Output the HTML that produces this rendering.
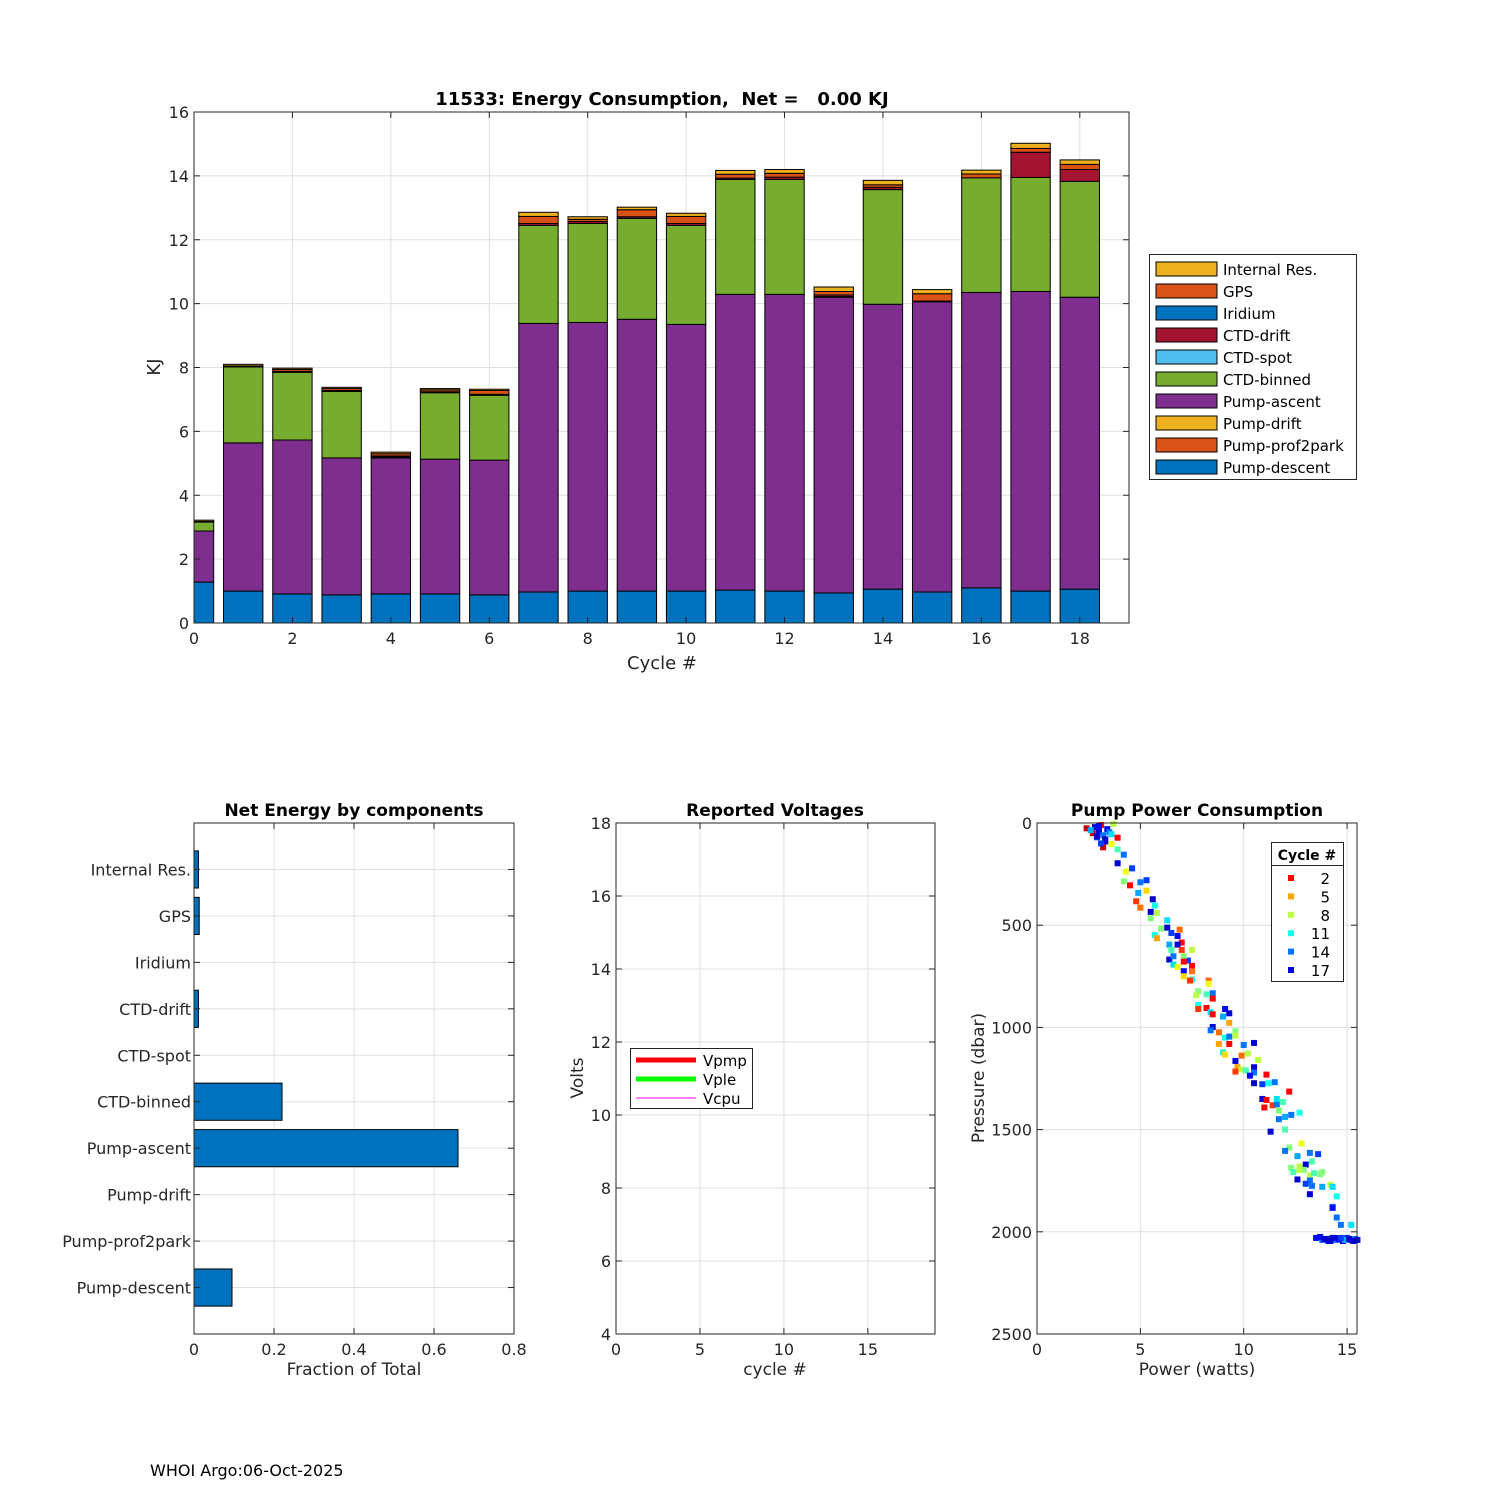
<!DOCTYPE html>
<html><head><meta charset="utf-8">
<style>
body{margin:0;background:#fff;}
svg{display:block;font-family:"DejaVu Sans","Liberation Sans",sans-serif;}
text{white-space:pre;}
</style></head>
<body>
<svg id="fig" width="1500" height="1500" viewBox="0 0 1500 1500" xmlns="http://www.w3.org/2000/svg">
<rect width="1500" height="1500" fill="#fff"/>
<g id="top"></g>
<g id="frac"></g>
<g id="volt"></g>
<g id="pump"></g>
<text x="150" y="1476" font-size="16" fill="#000">WHOI Argo:06-Oct-2025</text>
</svg>
<script>
// ---------- Top chart data ----------
const cycles = [0,1,2,3,4,5,6,7,8,9,10,11,12,13,14,15,16,17,18];
const pumpDescent = [1.28,1.0,0.91,0.88,0.91,0.91,0.88,0.97,1.0,1.0,1.0,1.03,1.0,0.94,1.06,0.97,1.1,1.0,1.06];
const pumpProf2park = [0,0,0,0,0,0,0,0,0,0,0,0,0,0,0,0,0,0,0];
const pumpDrift = [0,0,0,0,0,0,0,0,0,0,0,0,0,0,0,0,0,0,0];
const pumpAscent = [1.60,4.64,4.82,4.29,4.26,4.22,4.22,8.41,8.41,8.51,8.35,9.26,9.29,9.26,8.92,9.09,9.25,9.38,9.14];
const ctdBinned = [0.28,2.38,2.12,2.08,0.03,2.08,2.03,3.07,3.10,3.16,3.10,3.60,3.60,0.02,3.59,0.02,3.59,3.57,3.63];
const ctdSpot = [0,0,0,0,0,0,0,0,0,0,0,0,0,0,0,0,0,0,0];
const ctdDrift = [0,0,0.03,0.03,0.03,0.03,0.03,0.06,0.06,0.05,0.06,0.04,0.07,0.05,0.07,0,0,0.79,0.37];
const iridium = [0,0,0,0,0,0,0,0,0,0,0,0,0,0,0,0,0,0,0];
const gps = [0.02,0.03,0.06,0.06,0.07,0.06,0.12,0.22,0.07,0.22,0.22,0.12,0.12,0.11,0.08,0.23,0.12,0.12,0.16];
const internalRes = [0.04,0.05,0.04,0.04,0.05,0.04,0.04,0.13,0.08,0.08,0.10,0.12,0.12,0.14,0.14,0.13,0.12,0.16,0.14];
const seriesNames = ["Pump-descent","Pump-prof2park","Pump-drift","Pump-ascent","CTD-binned","CTD-spot","CTD-drift","Iridium","GPS","Internal Res."];
const seriesColors = ["#0072BD","#D95319","#EDB120","#7E2F8E","#77AC30","#4DBEEE","#A2142F","#0072BD","#D95319","#EDB120"];
const topYTicks = [0,2,4,6,8,10,12,14,16];
const topXTicks = [0,2,4,6,8,10,12,14,16,18];

// ---------- Fraction chart data ----------
const fracCategories = ["Pump-descent","Pump-prof2park","Pump-drift","Pump-ascent","CTD-binned","CTD-spot","CTD-drift","Iridium","GPS","Internal Res."];
const fracValues = [0.095,0,0,0.66,0.22,0,0.011,0,0.013,0.011];
const fracXTicks = [0,0.2,0.4,0.6,0.8];

// ---------- Voltage chart data ----------
const voltYTicks = [4,6,8,10,12,14,16,18];
const voltXTicks = [0,5,10,15];
const voltLegend = ["Vpmp","Vple","Vcpu"];

// ---------- Pump power data: power (W), pressure (dbar), cycle ----------
const pumpPower = [3.7,2.4,3.2,3.9,3.6,3.9,4.2,3.9,4.6,4.3,4.2,4.5,5.0,5.3,4.9,5.3,4.8,5.6,5.0,5.7,5.5,5.8,5.5,6.3,6.3,6.0,5.7,5.8,6.9,6.5,6.8,7.0,6.8,6.4,7.5,6.5,7.0,6.4,6.6,7.3,7.1,6.6,7.1,7.5,6.8,7.1,7.5,7.1,7.5,7.4,8.3,8.3,7.8,7.7,8.2,8.5,8.5,7.8,7.8,8.2,8.4,8.5,9.1,9.3,9.0,9.3,8.5,8.4,8.8,9.6,9.1,9.3,9.6,8.8,9.3,10.0,10.5,9.0,9.1,10.2,9.9,9.6,10.7,9.7,9.9,9.6,10.1,10.5,10.5,10.3,11.1,10.5,10.9,11.5,11.2,12.2,10.9,11.1,11.0,11.4,11.6,11.6,11.9,11.7,11.7,12.0,12.3,12.7,12.0,11.3,12.2,12.8,12.0,12.6,13.2,13.6,13.3,13.0,12.3,12.7,12.4,12.9,13.2,13.4,13.7,12.7,13.2,12.6,13.8,14.2,13.0,13.3,13.8,13.2,14.3,14.5,14.3,14.3,14.5,14.7,15.2,2.8,3.0,3.2,3.4,2.7,3.1,3.3,2.9,3.5,3.0,2.6,3.3,3.6,3.1,2.9,13.5,13.8,14.0,14.1,14.3,14.5,14.6,14.8,15.0,15.2,15.4,13.7,14.2,14.4,14.9,15.1,15.5,13.9,14.7,15.3];
const pumpPressure = [5,26,119,72,103,129,155,197,222,238,285,305,290,280,342,331,383,373,414,404,435,440,466,476,512,517,548,564,522,538,553,585,595,595,621,621,621,668,652,673,652,693,678,699,704,725,725,750,766,771,771,787,823,843,838,833,859,890,910,905,926,936,910,931,947,978,998,1014,1024,1019,1050,1045,1040,1081,1081,1086,1076,1122,1133,1128,1138,1164,1159,1195,1206,1216,1210,1195,1221,1236,1231,1273,1278,1268,1273,1314,1350,1355,1392,1381,1376,1350,1365,1407,1449,1438,1428,1417,1500,1510,1588,1568,1604,1630,1614,1620,1656,1671,1687,1681,1708,1697,1724,1713,1718,1697,1749,1744,1708,1770,1765,1775,1780,1816,1780,1827,1878,1883,1930,1966,1966,20,40,60,30,50,10,80,70,45,15,35,90,55,100,65,2030,2040,2035,2045,2030,2040,2035,2045,2030,2040,2035,2025,2045,2030,2040,2035,2040,2035,2030,2045];
const pumpCycle = [8,1,1,2,7,10,14,17,15,7,9,2,14,15,13,6,3,17,4,11,17,8,9,12,17,9,11,5,4,15,16,2,17,13,8,10,3,17,14,15,9,12,2,2,7,16,4,6,11,3,4,7,9,8,10,14,2,11,3,2,12,2,16,17,13,5,17,14,4,9,11,14,8,5,2,14,17,11,6,8,4,17,8,5,8,3,10,17,14,16,2,17,15,14,11,2,17,2,2,3,14,12,10,9,14,13,14,11,10,17,9,7,14,13,14,15,10,17,9,8,10,9,8,10,9,8,14,17,9,8,15,14,13,17,12,11,14,16,14,14,12,17,17,14,16,1,2,17,15,14,16,13,17,12,15,17,16,14,17,17,17,14,16,17,15,17,14,16,17,17,13,17,16,17,15,17,14,16];
const pumpLegendCycles = [2,5,8,11,14,17];
const pumpYTicks = [0,500,1000,1500,2000,2500];
const pumpXTicks = [0,5,10,15];

const NS = "http://www.w3.org/2000/svg";
function mk(parent, tag, attrs){
  const el = document.createElementNS(NS, tag);
  for (const k in attrs) el.setAttribute(k, attrs[k]);
  parent.appendChild(el);
  return el;
}
function txt(parent, x, y, s, size, anchor, extra){
  const t = mk(parent, "text", Object.assign({x:x, y:y, "font-size":size, "text-anchor":anchor||"middle", fill:"#262626"}, extra||{}));
  t.textContent = s;
  return t;
}
function jetRev(c){
  const t = Math.max(0, Math.min(1, 0.98 - 0.053*c));
  const cl = v => Math.max(0, Math.min(1, v));
  const r = cl(1.5 - Math.abs(4*t - 3)), g = cl(1.5 - Math.abs(4*t - 2)), b = cl(1.5 - Math.abs(4*t - 1));
  return "rgb(" + Math.round(r*255) + "," + Math.round(g*255) + "," + Math.round(b*255) + ")";
}
function axesFrame(g, L, T, R, B, xTicks, xs, yTicks, ys, name){
  const grid = mk(g, "g", {});
  
  
  xTicks.forEach(v => { const x = xs(v); mk(grid, "line", {x1:x, x2:x, y1:T, y2:B, stroke:"#dfdfdf", "stroke-width":1}); });
  yTicks.forEach(v => { const y = ys(v); mk(grid, "line", {x1:L, x2:R, y1:y, y2:y, stroke:"#dfdfdf", "stroke-width":1}); });
}
function axesBox(g, L, T, R, B, xTicks, xs, yTicks, ys, xfmt, yfmt, name){
  const box = mk(g, "rect", {x:L, y:T, width:R-L, height:B-T, fill:"none", stroke:"#262626", "stroke-width":1});
  
  
  const xa = mk(g, "g", {});
  
  
  xTicks.forEach(v => {
    const x = xs(v);
    mk(xa, "line", {x1:x, x2:x, y1:B, y2:B-6, stroke:"#262626"});
    mk(xa, "line", {x1:x, x2:x, y1:T, y2:T+6, stroke:"#262626"});
    txt(xa, x, B+21, xfmt(v), 16);
  });
  const ya = mk(g, "g", {});
  
  
  yTicks.forEach(v => {
    const y = ys(v);
    mk(ya, "line", {x1:L, x2:L+6, y1:y, y2:y, stroke:"#262626"});
    mk(ya, "line", {x1:R, x2:R-6, y1:y, y2:y, stroke:"#262626"});
    if (yfmt) txt(ya, L-5, y+6, yfmt(v), 16, "end");
  });
}

// ===== Top chart =====
(function(){
  const g = document.getElementById("top");
  const L=194, T=112, R=1129, B=623;
  const xs = v => L + v*(R-L)/19;
  const ys = v => B - v*(B-T)/16;
  axesFrame(g,L,T,R,B,topXTicks,xs,topYTicks,ys,"energy");
  const cpath = mk(g, "clipPath", {id:"topclip"});
  mk(cpath, "rect", {x:L, y:T, width:R-L, height:B-T});
  const bars = mk(g, "g", {"clip-path":"url(#topclip)"});
  const series = [pumpDescent,pumpProf2park,pumpDrift,pumpAscent,ctdBinned,ctdSpot,ctdDrift,iridium,gps,internalRes];
  cycles.forEach((c,i) => {
    let base = 0;
    series.forEach((s,k) => {
      const v = s[i];
      if (v <= 0) return;
      const y0 = ys(base), y1 = ys(base+v);
      const r = mk(bars, "rect", {x:xs(c-0.4), y:y1, width:xs(c+0.4)-xs(c-0.4), height:y0-y1, fill:seriesColors[k], stroke:"#000", "stroke-width":1});
      
      
      base += v;
    });
  });
  axesBox(g,L,T,R,B,topXTicks,xs,topYTicks,ys,v=>String(v),v=>String(v),"energy");
  const t = txt(g, 662, 105, "11533: Energy Consumption,  Net =   0.00 KJ", 18, "middle", {"font-weight":"bold", fill:"#000"});
  
  
  const xl = txt(g, 662, 669, "Cycle #", 18);
  
  
  const yl = txt(g, 0, 0, "KJ", 18, "middle", {transform:"translate(160,367) rotate(-90)"});
  
  
  const lg = mk(g, "g", {});
  
  
  mk(lg, "rect", {x:1149.5, y:254.5, width:207, height:225, fill:"#fff", stroke:"#262626"});
  for (let k = 9; k >= 0; k--) {
    const row = 9 - k;
    const y = 269 + row*22;
    const e = mk(lg, "g", {});
    
    
    mk(e, "rect", {x:1156, y:y-7, width:61, height:14, fill:seriesColors[k], stroke:"#000"});
    txt(e, 1223, y+6, seriesNames[k], 15, "start", {fill:"#000"});
  }
})();

// ===== Fraction chart =====
(function(){
  const g = document.getElementById("frac");
  const L=194, T=823, R=514, B=1334;
  const xs = v => L + v*(R-L)/0.8;
  const ys = v => B - v*(B-T)/11;
  const idx = fracCategories.map((c,i)=>i+1);
  axesFrame(g,L,T,R,B,fracXTicks,xs,idx,ys,"fraction");
  fracCategories.forEach((c,i) => {
    const v = fracValues[i];
    const yc = ys(i+1);
    if (v > 0) {
      const r = mk(g, "rect", {x:L, y:yc-0.4*46.45, width:xs(v)-L, height:0.8*46.45, fill:"#0072BD", stroke:"#000", "stroke-width":1});
      
      
    }
  });
  axesBox(g,L,T,R,B,fracXTicks,xs,idx,ys,v=>(v===0?"0":v.toFixed(1)),null,"fraction");
  fracCategories.forEach((c,i) => {
    const lab = txt(g, L-3, ys(i+1)+6, c, 16, "end");
    
    
  });
  const t = txt(g, 354, 816, "Net Energy by components", 17, "middle", {"font-weight":"bold", fill:"#000"});
  
  
  const xl = txt(g, 354, 1375, "Fraction of Total", 17);
  
  
})();

// ===== Voltage chart =====
(function(){
  const g = document.getElementById("volt");
  const L=616, T=823, R=935, B=1334;
  const xs = v => L + v*(R-L)/19;
  const ys = v => B - (v-4)*(B-T)/14;
  axesFrame(g,L,T,R,B,voltXTicks,xs,voltYTicks,ys,"voltage");
  axesBox(g,L,T,R,B,voltXTicks,xs,voltYTicks,ys,v=>String(v),v=>String(v),"voltage");
  const t = txt(g, 775, 816, "Reported Voltages", 17, "middle", {"font-weight":"bold", fill:"#000"});
  
  
  const xl = txt(g, 775, 1375, "cycle #", 17);
  
  
  const yl = txt(g, 0, 0, "Volts", 17, "middle", {transform:"translate(583,1078) rotate(-90)"});
  
  
  const lg = mk(g, "g", {});
  
  
  mk(lg, "rect", {x:630.5, y:1048.5, width:122, height:60, fill:"#fff", stroke:"#262626"});
  const cols = ["#ff0000","#00ff00","#ff00ff"], ws = [5,5,1];
  voltLegend.forEach((n,i) => {
    const y = 1060 + i*19;
    const e = mk(lg, "g", {});
    
    
    mk(e, "line", {x1:636, x2:696, y1:y, y2:y, stroke:cols[i], "stroke-width":ws[i]});
    txt(e, 703, y+6, n, 15, "start", {fill:"#000"});
  });
})();

// ===== Pump power chart =====
(function(){
  const g = document.getElementById("pump");
  const L=1037, T=823, R=1357, B=1334;
  const xs = v => L + v*(R-L)/15.48;
  const ys = v => T + v*(B-T)/2500;
  axesFrame(g,L,T,R,B,pumpXTicks,xs,pumpYTicks,ys,"pump");
  const pts = mk(g, "g", {});
  
  
  pumpPower.forEach((p,i) => {
    const r = mk(pts, "rect", {x:xs(p)-3, y:ys(pumpPressure[i])-3, width:6, height:6, fill:jetRev(pumpCycle[i])});
    
    
  });
  axesBox(g,L,T,R,B,pumpXTicks,xs,pumpYTicks,ys,v=>String(v),v=>String(v),"pump");
  const t = txt(g, 1197, 816, "Pump Power Consumption", 17, "middle", {"font-weight":"bold", fill:"#000"});
  
  
  const xl = txt(g, 1197, 1375, "Power (watts)", 17);
  
  
  const yl = txt(g, 0, 0, "Pressure (dbar)", 17, "middle", {transform:"translate(984,1078) rotate(-90)"});
  
  
  const lg = mk(g, "g", {});
  
  
  mk(lg, "rect", {x:1271.5, y:842.5, width:72, height:139, fill:"#fff", stroke:"#262626"});
  mk(lg, "line", {x1:1271.5, x2:1343.5, y1:865.5, y2:865.5, stroke:"#262626"});
  txt(lg, 1307, 860, "Cycle #", 14, "middle", {"font-weight":"bold", fill:"#000"});
  pumpLegendCycles.forEach((c,i) => {
    const y = 878 + i*18.4;
    const e = mk(lg, "g", {});
    
    
    mk(e, "rect", {x:1288, y:y-3, width:6, height:6, fill:jetRev(c)});
    txt(e, 1330, y+6, String(c), 15, "end", {fill:"#000"});
  });
})();
</script>
</body></html>
